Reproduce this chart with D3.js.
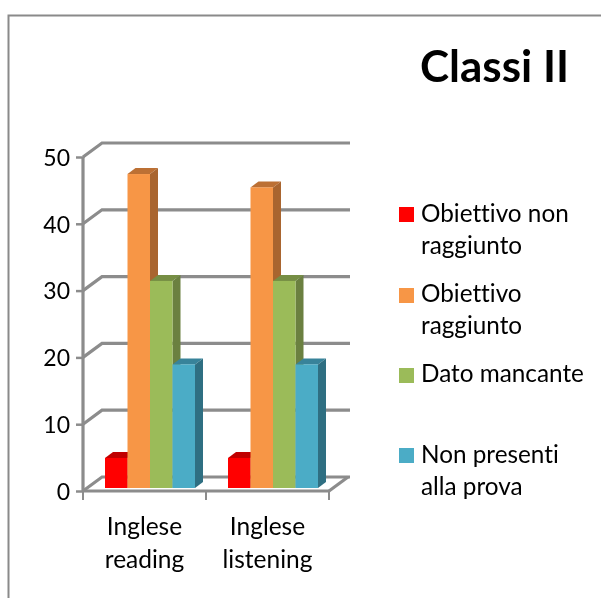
<!DOCTYPE html>
<html><head><meta charset="utf-8">
<script src="https://cdn.jsdelivr.net/npm/d3@7"></script>
<style>
html,body{margin:0;padding:0;background:#fff;overflow:hidden}
svg{display:block;filter:blur(0.4px)}
text{font-family:Lato,"Open Sans",sans-serif;fill:#000;font-variant-ligatures:none}
</style></head><body>
<svg id="c" width="601" height="598"></svg>
<script>
const title = "Classi II";
const categories = [["Inglese","reading"],["Inglese","listening"]];
const categoryKeys = ["reading","listening"];
const seriesNames = ["non","raggiunto","mancante","assenti"];
const legendLabels = [["Obiettivo non","raggiunto"],["Obiettivo","raggiunto"],["Dato mancante"],["Non presenti","alla prova"]];
const obiettivoNon = [4.5,4.5];
const obiettivoRaggiunto = [47,45];
const datoMancante = [31,31];
const nonPresenti = [18.5,18.5];
const seriesValues = [obiettivoNon,obiettivoRaggiunto,datoMancante,nonPresenti];
const yTicks = [0,10,20,30,40,50];
const colFront = ["#FF0000","#F79646","#9BBB59","#4BACC6"];
const colTop = ["#C00000","#BC7034","#768E44","#38839A"];
const colSide = ["#A80000","#A9652F","#6B8040","#2F6F82"];

const svg = d3.select("#c");
const W=601,H=598;
const axisCol="#8c8c8c";
const y = d3.scaleLinear().domain([0,50]).range([491,157]);
const x0 = d3.scaleBand().domain(categoryKeys).range([83,329]);
const x1 = d3.scaleBand().domain(seriesNames).range([0,90]);
const depthX=19, depthY=14, barDx=8, barDy=6, offX=22, offY=3;

// chart frame
svg.append("path").attr("d",`M${W} 15.5H8.5V${H}`).attr("fill","none").attr("stroke","#8a8a8a").attr("stroke-width",2);

// back wall gridlines and side wall diagonals
const grid = svg.append("g").attr("fill","none").attr("stroke",axisCol).attr("stroke-width",3.2);
yTicks.forEach(t=>{
  grid.append("path").attr("d",`M${83} ${y(t)}L${83+depthX} ${y(t)-depthY}H${329+depthX+2}`);
});
// floor
grid.append("path").attr("d",`M329 ${y(0)}L${329+depthX} ${y(0)-depthY}`);

// axes
const yAxis = d3.axisLeft(y).tickValues(yTicks).tickSize(7).tickPadding(6);
const gy = svg.append("g").attr("transform","translate(83,0)").call(yAxis);
gy.selectAll("line").attr("stroke",axisCol).attr("stroke-width",2.5);
gy.select(".domain").attr("stroke",axisCol).attr("stroke-width",3.2).attr("d",`M0 ${y(50)}V${y(0)}`);
gy.selectAll("text").attr("font-size",23).attr("font-family","Lato").attr("dy","0.36em");

const gx = svg.append("g");
gx.append("path").attr("d",`M83 ${y(0)}H329`).attr("stroke",axisCol).attr("stroke-width",3.2);
[83,206,329].forEach(v=>gx.append("path").attr("d",`M${v} ${y(0)}V${y(0)+9}`).attr("stroke",axisCol).attr("stroke-width",2));
categories.forEach((lines,i)=>{
  const cx=x0(categoryKeys[i])+x0.bandwidth()/2;
  lines.forEach((l,j)=>svg.append("text").attr("x",cx).attr("y",535+j*33).attr("text-anchor","middle").attr("font-size",24.5).text(l));
});

// bars
const bars = svg.append("g");
categoryKeys.forEach((c,ci)=>{
  seriesNames.forEach((s,si)=>{
    const v=seriesValues[si][ci];
    const xl=x0(c)+offX+x1(s), w=x1.bandwidth(), t=y(v)-offY, b=y(0)-offY, xr=xl+w;
    const g=bars.append("g");
    g.append("path").attr("fill",colTop[si]).attr("d",`M${xl} ${t}L${xl+barDx} ${t-barDy}H${xr+barDx}L${xr} ${t}Z`);
    g.append("path").attr("fill",colSide[si]).attr("d",`M${xr} ${t}L${xr+barDx} ${t-barDy}V${b-barDy}L${xr} ${b}Z`);
    g.append("rect").attr("x",xl).attr("y",t).attr("width",w).attr("height",b-t).attr("fill",colFront[si]);
  });
});

// title
svg.append("text").attr("x",494.5).attr("y",82).attr("text-anchor","middle").attr("font-size",44).attr("font-weight",700).text(title);

// legend
const legendSquareY=[207,288,368,448];
const legendTextY=[222,254,302,334,382,463,495];
let ti=0;
legendLabels.forEach((lines,i)=>{
  svg.append("rect").attr("x",399).attr("y",legendSquareY[i]).attr("width",15).attr("height",15).attr("fill",colFront[i]);
  lines.forEach(l=>{
    svg.append("text").attr("x",421).attr("y",legendTextY[ti++]).attr("font-size",24.3).text(l);
  });
});
</script>
</body></html>
